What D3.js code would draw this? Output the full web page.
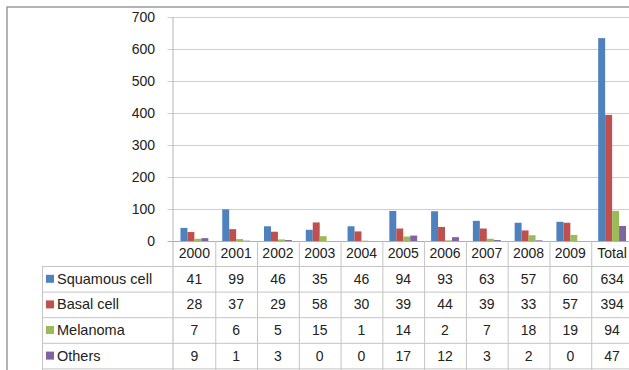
<script src='https://d3js.org/d3.v7.min.js'></script>
<style>body{margin:0;overflow:hidden;background:#fff;}
svg text{font-family:'Liberation Sans',Arial,sans-serif;fill:#222;}</style>
<svg id='chart'/>
<script>
var years=['2000','2001','2002','2003','2004','2005','2006','2007','2008','2009','Total'],
    series=['Squamous cell','Basal cell','Melanoma','Others'],
    colors=['#4f81bd','#c0504d','#9bbb59','#8064a2'],
    squamous=[41,99,46,35,46,94,93,63,57,60,634],
    basal=[28,37,29,58,30,39,44,39,33,57,394],
    melanoma=[7,6,5,15,1,14,2,7,18,19,94],
    others=[9,1,3,0,0,17,12,3,2,0,47],
    yTicks=[0,100,200,300,400,500,600,700];
var values=[squamous,basal,melanoma,others];

var W=629,H=370,top0=17,base=241,left=173.5,right=633,
    tabLeft=42,rowTop=266,rowH=25.6;
var svg=d3.select('#chart').attr('width',W).attr('height',H);

// outer frame
svg.append('rect').attr('x',7).attr('y',7).attr('width',W+20).attr('height',H+20)
   .attr('fill','#fff').attr('stroke','#9a9a9a').attr('stroke-width',1.5);

var x=d3.scaleBand().domain(years).range([left,right]),
    x1=d3.scaleBand().domain(series).range([0,x.bandwidth()]).paddingOuter(1),
    y=d3.scaleLinear().domain([0,700]).range([base,top0]);

// gridlines
svg.append('g').selectAll('line').data(yTicks).join('line')
   .attr('x1',left-6).attr('x2',W).attr('y1',function(d){return y(d)+.5;})
   .attr('y2',function(d){return y(d)+.5;})
   .attr('stroke',function(d){return d===0?'#b0b0b0':'#cfcfcf';}).attr('stroke-width',1.2);
svg.append('line').attr('x1',left-.5).attr('x2',left-.5).attr('y1',top0).attr('y2',H)
   .attr('stroke','#b5b5b5');

// y labels
svg.append('g').selectAll('text').data(yTicks).join('text')
   .attr('x',155).attr('y',function(d){return y(d)+5;})
   .attr('text-anchor','end').attr('font-size',14).attr('fill','#333').text(function(d){return d;});

// bars
series.forEach(function(s,i){
  svg.append('g').selectAll('rect').data(values[i]).join('rect')
     .attr('x',function(d,j){return x(years[j])+x1(s);})
     .attr('width',x1.bandwidth())
     .attr('y',function(d){return y(d);})
     .attr('height',function(d){return base-y(d);})
     .attr('fill',colors[i]);
});

// table lines
var g=svg.append('g').attr('stroke','#c4c4c4').attr('stroke-width',1);
years.forEach(function(c){
  g.append('line').attr('x1',x(c)+x.bandwidth()+.5).attr('x2',x(c)+x.bandwidth()+.5)
   .attr('y1',base).attr('y2',H);
});
d3.range(5).forEach(function(r){
  g.append('line').attr('x1',tabLeft).attr('x2',W)
   .attr('y1',rowTop+r*rowH+.5).attr('y2',rowTop+r*rowH+.5);
});
g.append('line').attr('x1',tabLeft+.5).attr('x2',tabLeft+.5).attr('y1',rowTop).attr('y2',H);

// year labels
svg.append('g').selectAll('text').data(years).join('text')
   .attr('x',function(d){return x(d)+x.bandwidth()/2;}).attr('y',258)
   .attr('text-anchor','middle').attr('font-size',14).text(function(d){return d;});

// rows
series.forEach(function(s,i){
  var cy=rowTop+i*rowH+rowH/2;
  svg.append('rect').attr('x',46).attr('y',cy-4).attr('width',8).attr('height',8).attr('fill',colors[i]);
  svg.append('text').attr('x',57).attr('y',cy+5).attr('font-size',14.5).text(s);
  svg.append('g').selectAll('text').data(values[i]).join('text')
     .attr('x',function(d,j){return x(years[j])+x.bandwidth()/2;}).attr('y',cy+5)
     .attr('text-anchor','middle').attr('font-size',14).text(function(d){return d;});
});
</script>
